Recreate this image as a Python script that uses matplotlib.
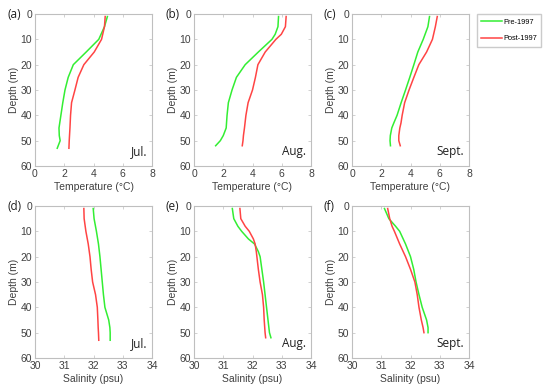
import numpy as np
import matplotlib
matplotlib.use("Agg")
import matplotlib.pyplot as plt

plt.rcParams['font.family'] = ['Liberation Sans', 'DejaVu Sans']

# depth sampling (m) and profiles
dep = [1, 5, 10, 15, 20, 25, 30, 35, 40, 45, 48, 50, 53]

# temperature, July
t_jul_pre = [4.95, 4.75, 4.36, 3.5, 2.62, 2.27, 2.05, 1.9, 1.77, 1.64, 1.66, 1.72, 1.52]
t_jul_post = [4.8, 4.75, 4.55, 4.05, 3.34, 2.95, 2.73, 2.5, 2.43, 2.39, 2.36, 2.34, 2.32]

dep_aug = [1, 5, 8, 10, 15, 20, 25, 30, 35, 40, 45, 48, 50, 52]
t_aug_pre = [5.78, 5.74, 5.55, 5.33, 4.4, 3.5, 2.9, 2.6, 2.35, 2.26, 2.2, 2.0, 1.8, 1.48]
t_aug_post = [6.3, 6.25, 5.97, 5.6, 4.87, 4.37, 4.2, 4.0, 3.7, 3.55, 3.45, 3.38, 3.35, 3.3]

dep_sep = [1, 5, 10, 15, 20, 25, 30, 35, 40, 43, 45, 48, 50, 52]
t_sep_pre = [5.3, 5.19, 4.87, 4.5, 4.23, 3.95, 3.66, 3.36, 3.08, 2.86, 2.72, 2.62, 2.6, 2.63]
t_sep_post = [5.83, 5.7, 5.5, 5.1, 4.57, 4.23, 3.9, 3.6, 3.43, 3.35, 3.27, 3.2, 3.2, 3.3]

# salinity
s_jul_pre = [31.99, 32.02, 32.1, 32.17, 32.22, 32.26, 32.3, 32.34, 32.39, 32.52, 32.56, 32.57, 32.57]
s_jul_post = [31.67, 31.68, 31.74, 31.82, 31.88, 31.92, 31.97, 32.07, 32.13, 32.15, 32.16, 32.17, 32.18]

dep_saug = [1, 5, 8, 10, 13, 15, 18, 20, 25, 30, 35, 40, 45, 50, 52]
s_aug_pre = [31.31, 31.36, 31.5, 31.63, 31.86, 32.07, 32.2, 32.26, 32.32, 32.38, 32.43, 32.48, 32.53, 32.58, 32.63]
s_aug_post = [31.57, 31.6, 31.75, 31.89, 32.03, 32.09, 32.13, 32.15, 32.2, 32.26, 32.34, 32.38, 32.4, 32.43, 32.45]

dep_ssep = [1, 5, 8, 10, 15, 20, 25, 30, 35, 40, 45, 48, 50]
s_sep_pre = [31.11, 31.26, 31.49, 31.63, 31.83, 32.0, 32.11, 32.19, 32.29, 32.4, 32.55, 32.6, 32.6]
s_sep_post = [31.22, 31.29, 31.37, 31.45, 31.63, 31.83, 32.0, 32.15, 32.23, 32.29, 32.37, 32.43, 32.46]

panels = [
    ("(a)", "Jul.", dep, t_jul_pre, t_jul_post, "T"),
    ("(b)", "Aug.", dep_aug, t_aug_pre, t_aug_post, "T"),
    ("(c)", "Sept.", dep_sep, t_sep_pre, t_sep_post, "T"),
    ("(d)", "Jul.", dep, s_jul_pre, s_jul_post, "S"),
    ("(e)", "Aug.", dep_saug, s_aug_pre, s_aug_post, "S"),
    ("(f)", "Sept.", dep_ssep, s_sep_pre, s_sep_post, "S"),
]

green = "#33ee33"
red = "#ff4444"
gray = "#404040"

fig = plt.figure(figsize=(5.5, 3.9), dpi=100)
lefts = [35, 194, 352]
tops = [14, 206]
W, H = 550, 390

for i, (tag, month, d, pre, post, kind) in enumerate(panels):
    r, c = divmod(i, 3)
    l = lefts[c]
    t = tops[r]
    ax = fig.add_axes([l / W, (H - t - 152) / H, 117 / W, 152 / H])
    lp, = ax.plot(pre, d, color=green, lw=1.1, label="Pre-1997")
    lq, = ax.plot(post, d, color=red, lw=1.1, label="Post-1997")
    ax.set_ylim(60, 0)
    ax.set_yticks([0, 10, 20, 30, 40, 50, 60])
    if kind == "T":
        ax.set_xlim(0, 8)
        ax.set_xticks([0, 2, 4, 6, 8])
        ax.set_xlabel("Temperature (°C)", fontsize=7.5, color=gray, labelpad=2)
    else:
        ax.set_xlim(30, 34)
        ax.set_xticks([30, 31, 32, 33, 34])
        ax.set_xlabel("Salinity (psu)", fontsize=7.5, color=gray, labelpad=2)
    ax.set_ylabel("Depth (m)", fontsize=7.5, color=gray, labelpad=1)
    ax.tick_params(direction="in", length=2, width=0.5, top=True, right=True,
                   labelsize=7.5, colors="#bfbfbf", labelcolor=gray, pad=2)
    for s in ax.spines.values():
        s.set_color("#bfbfbf")
        s.set_linewidth(0.8)
    ax.text(0.96, 0.05, month, transform=ax.transAxes, ha="right", va="bottom",
            fontsize=8.5, family=["Open Sans", "DejaVu Sans"], color="#202020")
    fig.text((l - 28) / W, (H - t) / H, tag, ha="left", va="center",
             fontsize=8.5, family=["Open Sans", "DejaVu Sans"], color="#202020")

fig.legend(handles=[lp, lq], loc="upper left", bbox_to_anchor=(477 / W, (H - 14) / H),
           fontsize=5.3, frameon=True, fancybox=False, edgecolor="#bfbfbf",
           handlelength=2.8, borderpad=0.6, labelspacing=1.3, handletextpad=0.15,
           borderaxespad=0)

fig.savefig("out.png", dpi=100)
